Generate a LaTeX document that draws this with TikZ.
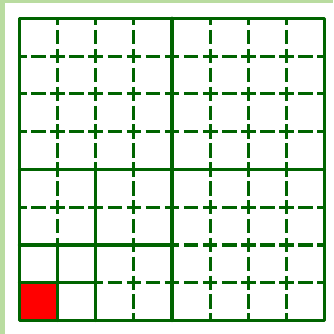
\documentclass[tikz,border=0pt]{standalone}
\usetikzlibrary{calc}
\definecolor{bandgreen}{HTML}{B9DCA0}
\definecolor{gridgreen}{HTML}{006400}
\tikzset{
  solidline/.style={draw=gridgreen, line width=3.2pt, line cap=round, line join=round},
  hdashline/.style={draw=gridgreen, line width=3.1pt, dash pattern=on 14.6pt off 4.47pt, dash phase=7.3pt},
  vdashline/.style={draw=gridgreen, line width=3.1pt, dash pattern=on 14.4pt off 4.49pt, dash phase=7.2pt},
}
\begin{document}
\begin{tikzpicture}[x=1pt,y=-1pt]
\useasboundingbox (0,0) rectangle (333,334);
\fill[white] (0,0) rectangle (333,334);
\fill[bandgreen] (0,0) rectangle (5,334);
\fill[bandgreen] (0,0) rectangle (333,3);
\foreach \i in {0,...,8} {
  \foreach \j in {0,...,8} {
    \coordinate (p\i\j) at ({19.5+38.13*\i},{18.3+37.78*\j});
  }
}
% red cell
\fill[red] (p07) rectangle (p18);
% dashed verticals
\foreach \i in {1,2,3} { \path[vdashline] (p\i0) -- (p\i4); }
\foreach \i in {5,6,7} { \path[vdashline] (p\i0) -- (p\i8); }
\path[vdashline] (p14) -- (p16);
\path[vdashline] (p34) -- (p38);
% dashed horizontals
\foreach \j in {1,2,3} { \path[hdashline] (p0\j) -- (p8\j); }
\foreach \j in {5,6,7} { \path[hdashline] (p4\j) -- (p8\j); }
\path[hdashline] (p05) -- (p45);
\path[hdashline] (p27) -- (p47);
% solid lines
\path[solidline] (p40) -- (p48);
\path[solidline] (p04) -- (p84);
\path[solidline] (p24) -- (p28);
\path[solidline] (p06) -- (p46);
\path[solidline] (p16) -- (p18);
\path[solidline] (p07) -- (p27);
\path[solidline] (p00) rectangle (p88);
\end{tikzpicture}
\end{document}
